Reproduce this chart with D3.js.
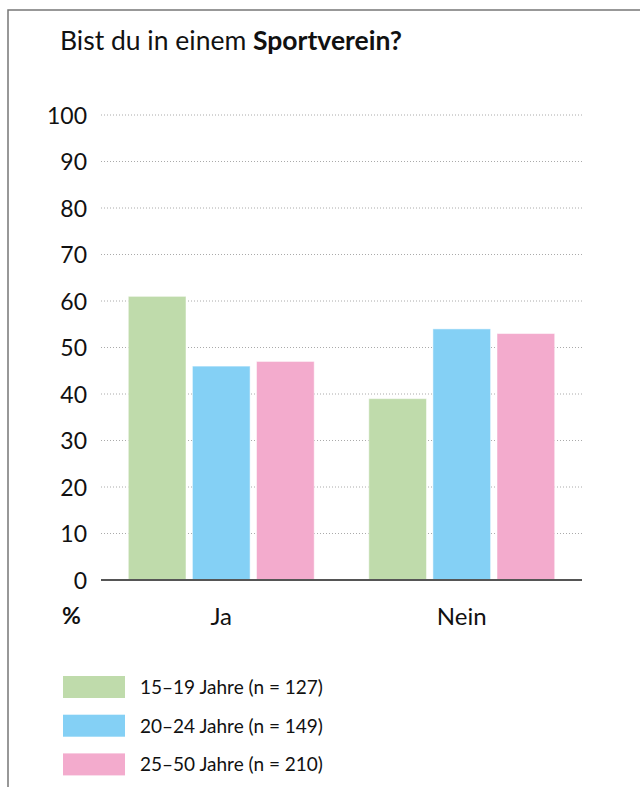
<!DOCTYPE html>
<html>
<head>
<meta charset="utf-8">
<script src="https://cdn.jsdelivr.net/npm/d3@7"></script>
<style>
  html, body { margin: 0; padding: 0; background: #fff; }
  svg { display: block; font-family: "Lato", "Open Sans", sans-serif; }
</style>
</head>
<body>
<svg id="chart" width="640" height="787"></svg>
<script>
const categories = ["Ja", "Nein"];
const seriesNames = ["15–19 Jahre (n = 127)", "20–24 Jahre (n = 149)", "25–50 Jahre (n = 210)"];
const series1519 = [61, 39];
const series2024 = [46, 54];
const series2550 = [47, 53];
const yTicks = [0, 10, 20, 30, 40, 50, 60, 70, 80, 90, 100];
const colors = ["#bfdbab", "#84d0f5", "#f3abcd"];

const allSeries = [series1519, series2024, series2550];
const svg = d3.select("#chart");

// frame
svg.append("path")
  .attr("d", "M8,787 L8,10 L640,10")
  .attr("fill", "none").attr("stroke", "#777").attr("stroke-width", 1.5);

// title
const title = svg.append("text").attr("x", 60).attr("y", 50)
  .attr("font-size", 26.5).attr("fill", "#111");
title.append("tspan").attr("font-weight", 400).text("Bist du in einem ");
title.append("tspan").attr("font-weight", 700).text("Sportverein?");

const x0 = d3.scaleBand().domain(categories).range([101, 582]).paddingInner(0.227).paddingOuter(0.1135);
const x1 = d3.scaleBand().domain(d3.range(seriesNames.length)).range([0, x0.bandwidth()]).paddingInner(0.1);
const y = d3.scaleLinear().domain([0, 100]).range([580, 115]);

// grid
svg.append("g").selectAll("line").data(yTicks.filter(d => d > 0)).join("line")
  .attr("x1", 101).attr("x2", 582)
  .attr("y1", d => y(d)).attr("y2", d => y(d))
  .attr("stroke", "#aaa").attr("stroke-width", 1).attr("stroke-dasharray", "1,2");

// y axis labels
const yAxis = d3.axisLeft(y).tickValues(yTicks).tickSize(0).tickPadding(0);
const gy = svg.append("g").attr("transform", "translate(87,0)").call(yAxis);
gy.select(".domain").remove();
gy.selectAll("text").attr("font-size", 23).attr("fill", "#111")
  .attr("font-family", "Lato, sans-serif").attr("dy", "0.35em");

// bars
const groups = svg.append("g").selectAll("g").data(categories).join("g")
  .attr("transform", c => `translate(${x0(c)},0)`);
groups.selectAll("rect").data((c, ci) => allSeries.map((s, si) => ({si, v: s[ci]}))).join("rect")
  .attr("x", d => x1(d.si)).attr("width", x1.bandwidth())
  .attr("y", d => y(d.v)).attr("height", d => y(0) - y(d.v))
  .attr("fill", d => colors[d.si])
  .attr("stroke", "#fff").attr("stroke-opacity", 0.5).attr("stroke-width", 1);

// baseline
svg.append("line").attr("x1", 101).attr("x2", 582).attr("y1", y(0)).attr("y2", y(0))
  .attr("stroke", "#555").attr("stroke-width", 2);

// x axis labels
const xAxis = d3.axisBottom(x0).tickSize(0).tickPadding(0);
const gx = svg.append("g").attr("transform", "translate(0,625)").call(xAxis);
gx.select(".domain").remove();
gx.selectAll("text").attr("font-size", 24).attr("fill", "#111")
  .attr("font-family", "Lato, sans-serif").attr("dy", 0);

svg.append("text").attr("x", 62).attr("y", 624).attr("font-size", 23)
  .attr("font-weight", 700).attr("fill", "#111").text("%");

// legend
const lg = svg.append("g").selectAll("g").data(seriesNames).join("g")
  .attr("transform", (d, i) => `translate(63,${676 + i * 38.7})`);
lg.append("rect").attr("width", 62).attr("height", 22).attr("fill", (d, i) => colors[i]);
lg.append("text").attr("x", 77).attr("y", 18).attr("font-size", 19).attr("fill", "#111").text(d => d);
</script>
</body>
</html>
